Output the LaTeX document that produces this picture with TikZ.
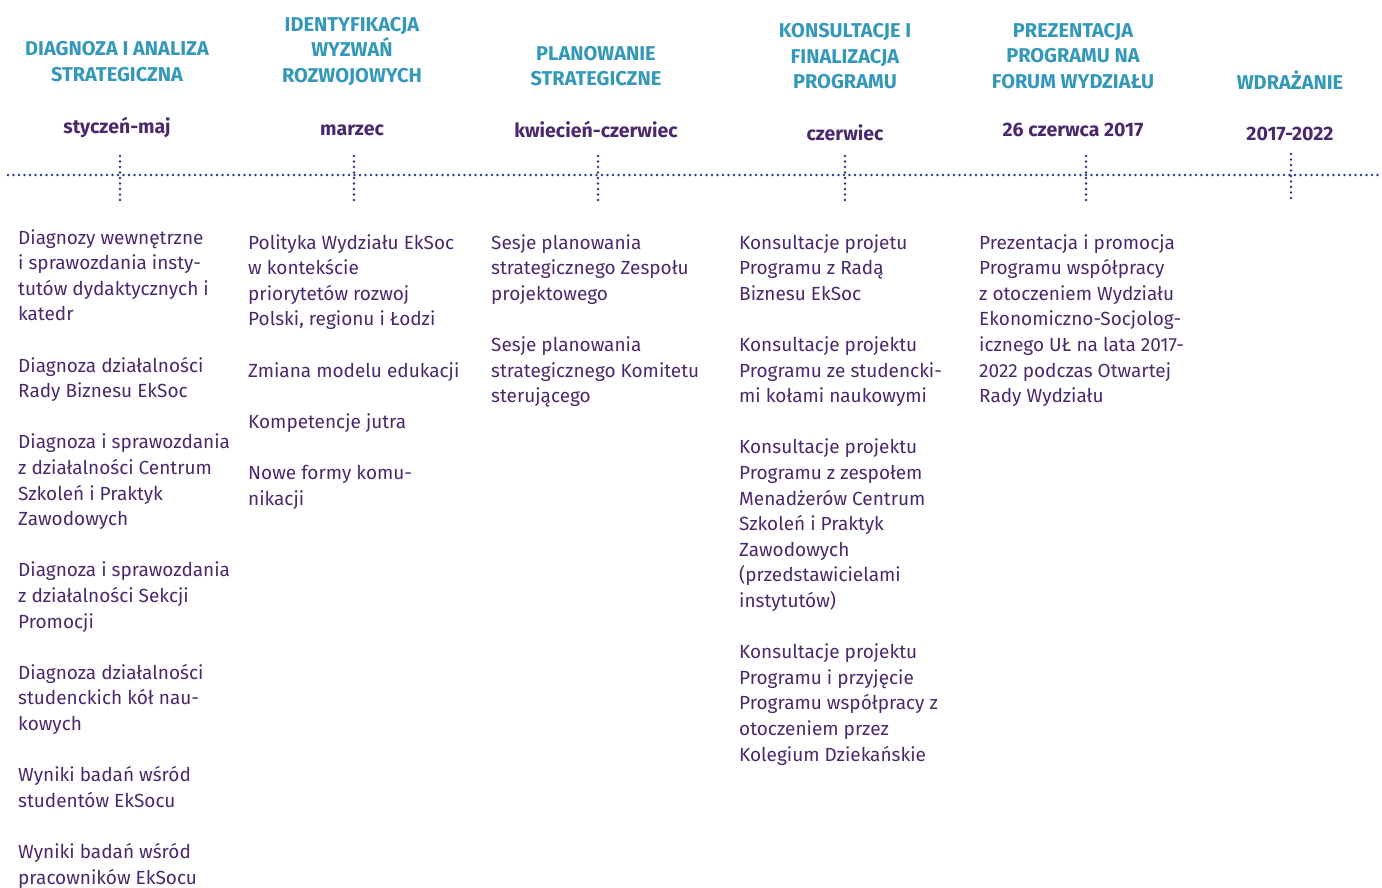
\documentclass[tikz,border=0pt]{standalone}
\usepackage{fontspec}
\setmainfont{Fira Sans}
\definecolor{morski}{RGB}{52,152,186}
\definecolor{fiolet}{RGB}{75,40,110}
\definecolor{granat}{RGB}{40,56,140}
\tikzset{
	etap/.style = {text=morski, font=\bfseries\fontsize{20}{25.5}\selectfont, align=center, anchor=south, inner sep=0pt},
	termin/.style = {text=fiolet, font=\bfseries\fontsize{19.5}{22}\selectfont, anchor=base, inner sep=0pt},
	opis/.style = {text=fiolet, font=\fontsize{19}{25.6}\selectfont, align=left, anchor=north west, inner sep=0pt,
		execute at begin node={\rule{0pt}{20pt}}},
	kropki/.style = {draw=granat, line width=2.7pt, line cap=round, dash pattern=on 0pt off 5.5pt}
}
\begin{document}
\begin{tikzpicture}[x=1pt, y=-1pt]
	\useasboundingbox (0, 0) rectangle (1382, 887);
	
	% os czasu
	\coordinate (os-l) at (8, 175);
	\coordinate (os-p) at (1382, 175);
	\draw [kropki] (os-l) -- (os-p);
	
	% znaczniki
	\coordinate (z1-g) at (120, 156);
	\coordinate (z1-d) at (120, 203);
	\coordinate (z2-g) at (354, 156);
	\coordinate (z2-d) at (354, 203);
	\coordinate (z3-g) at (598, 156);
	\coordinate (z3-d) at (598, 203);
	\coordinate (z4-g) at (845, 156);
	\coordinate (z4-d) at (845, 203);
	\coordinate (z5-g) at (1086, 156);
	\coordinate (z5-d) at (1086, 203);
	\coordinate (z6-g) at (1291, 154);
	\coordinate (z6-d) at (1291, 201);
	\draw [kropki] (z1-g) -- (z1-d);
	\draw [kropki] (z2-g) -- (z2-d);
	\draw [kropki] (z3-g) -- (z3-d);
	\draw [kropki] (z4-g) -- (z4-d);
	\draw [kropki] (z5-g) -- (z5-d);
	\draw [kropki] (z6-g) -- (z6-d);
	
	% etapy
	\node [etap] (e1) at (117, 82) {DIAGNOZA I ANALIZA\\STRATEGICZNA};
	\node [etap] (e2) at (352, 86) {IDENTYFIKACJA\\WYZWAŃ\\ROZWOJOWYCH};
	\node [etap] (e3) at (596, 86.5) {PLANOWANIE\\STRATEGICZNE};
	\node [etap] (e4) at (845, 89.5) {KONSULTACJE I\\FINALIZACJA\\PROGRAMU};
	\node [etap] (e5) at (1073, 89) {PREZENTACJA\\PROGRAMU NA\\FORUM WYDZIAŁU};
	\node [etap] (e6) at (1290, 90) {WDRAŻANIE};
	
	% terminy
	\node [termin] (t1) at (117, 133) {styczeń-maj};
	\node [termin] (t2) at (352, 135) {marzec};
	\node [termin] (t3) at (596, 137) {kwiecień-czerwiec};
	\node [termin] (t4) at (845, 140) {czerwiec};
	\node [termin] (t5) at (1073, 136) {26 czerwca 2017};
	\node [termin] (t6) at (1290, 140) {2017-2022};
	
	% opisy dzialan
	\node [opis] (o1) at (18, 229) {Diagnozy wewnętrzne\\i sprawozdania insty-\\tutów dydaktycznych i\\katedr\\[25.6pt]
		Diagnoza działalności\\Rady Biznesu EkSoc\\[25.6pt]
		Diagnoza i sprawozdania\\z działalności Centrum\\Szkoleń i Praktyk\\Zawodowych\\[25.6pt]
		Diagnoza i sprawozdania\\z działalności Sekcji\\Promocji\\[25.6pt]
		Diagnoza działalności\\studenckich kół nau-\\kowych\\[25.6pt]
		Wyniki badań wśród\\studentów EkSocu\\[25.6pt]
		Wyniki badań wśród\\pracowników EkSocu};
	\node [opis] (o2) at (248, 234) {Polityka Wydziału EkSoc\\w kontekście\\priorytetów rozwoj\\Polski, regionu i Łodzi\\[25.6pt]
		Zmiana modelu edukacji\\[25.6pt]
		Kompetencje jutra\\[25.6pt]
		Nowe formy komu-\\nikacji};
	\node [opis] (o3) at (491, 234) {Sesje planowania\\strategicznego Zespołu\\projektowego\\[25.6pt]
		Sesje planowania\\strategicznego Komitetu\\sterującego};
	\node [opis] (o4) at (739, 234) {Konsultacje projetu\\Programu z Radą\\Biznesu EkSoc\\[25.6pt]
		Konsultacje projektu\\Programu ze studencki-\\mi kołami naukowymi\\[25.6pt]
		Konsultacje projektu\\Programu z zespołem\\Menadżerów Centrum\\Szkoleń i Praktyk\\Zawodowych\\(przedstawicielami\\instytutów)\\[25.6pt]
		Konsultacje projektu\\Programu i przyjęcie\\Programu współpracy z\\otoczeniem przez\\Kolegium Dziekańskie};
	\node [opis] (o5) at (979, 234) {Prezentacja i promocja\\Programu współpracy\\z otoczeniem Wydziału\\Ekonomiczno-Socjolog-\\icznego UŁ na lata 2017-\\2022 podczas Otwartej\\Rady Wydziału};
\end{tikzpicture}
\end{document}
